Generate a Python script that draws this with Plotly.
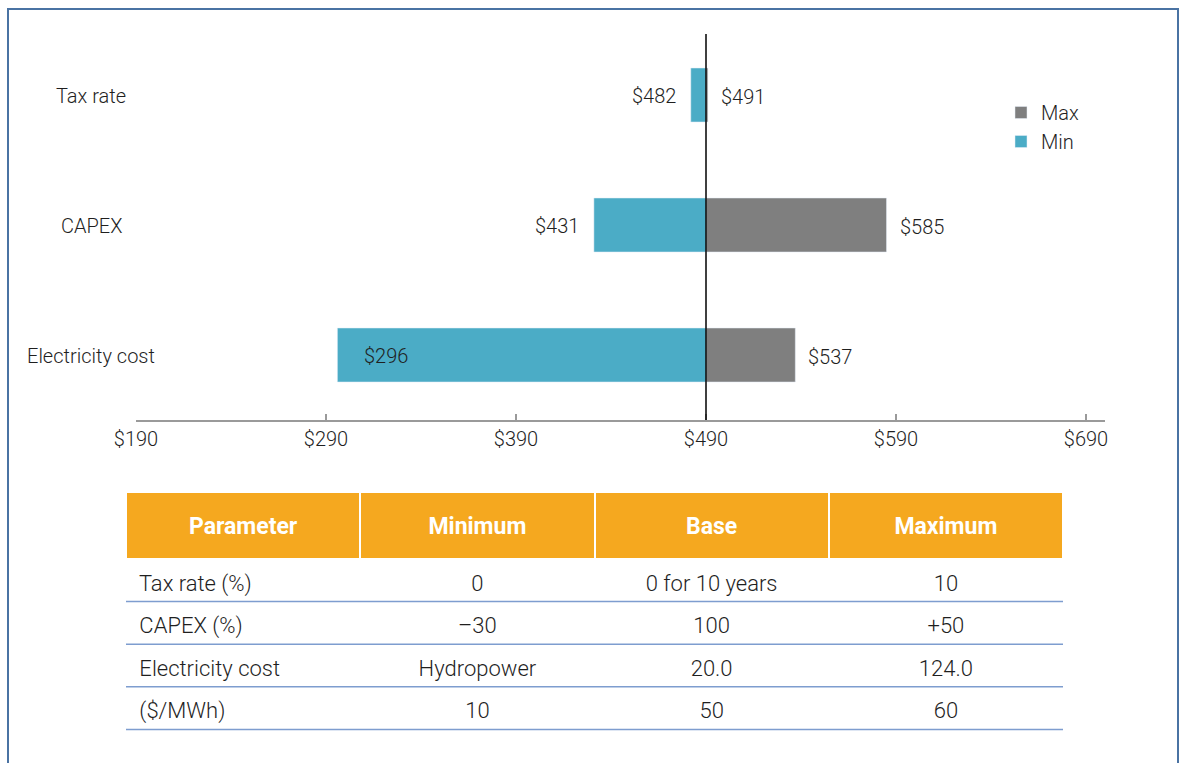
import plotly.graph_objects as go

# ---- chart data ----
categories = ["Electricity cost", "CAPEX", "Tax rate"]
min_values = [296, 431, 482]
max_values = [537, 585, 491]
base_value = 490
tick_values = [190, 290, 390, 490, 590, 690]

# ---- table data ----
table_header = ["Parameter", "Minimum", "Base", "Maximum"]
col_parameter = ["Tax rate (%)", "CAPEX (%)", "Electricity cost", "($/MWh)"]
col_minimum = ["0", "\u201330", "Hydropower", "10"]
col_base = ["0 for 10 years", "100", "20.0", "50"]
col_maximum = ["10", "+50", "124.0", "60"]

W, H = 1182, 763
FONT = "Roboto"
TEXT = "#1f1f1f"
MIN_COLOR = "#4bacc6"
MAX_COLOR = "#7f7f7f"
ORANGE = "#f5a81f"
RULE = "#7e9dcf"
CLEAR = "rgba(0,0,0,0)"


def px_x(p):
    return p / W


def px_y(p):
    return 1 - p / H


fig = go.Figure()

fig.add_trace(go.Bar(
    name="Max", y=categories, x=[v - base_value for v in max_values],
    base=base_value, orientation="h", marker_color=MAX_COLOR,
    width=0.415, hoverinfo="skip",
))
fig.add_trace(go.Bar(
    name="Min", y=categories, x=[v - base_value for v in min_values],
    base=base_value, orientation="h", marker_color=MIN_COLOR,
    width=0.415, hoverinfo="skip",
))

annotations = []
# value labels
for cat, lo, hi in zip(categories, min_values, max_values):
    if base_value - lo > 150:
        annotations.append(dict(x=lo, y=cat, xref="x", yref="y", text=f"${lo}",
                                xanchor="left", xshift=25, yshift=-1, showarrow=False))
    else:
        annotations.append(dict(x=lo, y=cat, xref="x", yref="y", text=f"${lo}",
                                xanchor="right", xshift=-13, yshift=-1, showarrow=False))
    annotations.append(dict(x=max(hi, base_value), y=cat, xref="x", yref="y",
                            text=f"${hi}", xanchor="left", xshift=11, yshift=-2,
                            showarrow=False))
# category labels
for cat in categories:
    annotations.append(dict(x=px_x(91), y=cat, xref="paper", yref="y", text=cat,
                            xanchor="center", yshift=-1, showarrow=False))

shapes = [
    # baseline marker
    dict(type="line", xref="x", yref="y domain", x0=base_value, x1=base_value,
         y0=0, y1=0.99, line=dict(color="#000000", width=1.5)),
    # outer frame
    dict(type="rect", xref="paper", yref="paper", x0=px_x(8), x1=px_x(1178),
         y0=-0.05, y1=px_y(9), line=dict(color="#4a73a3", width=2)),
]

# ---- table ----
table_top = 492
header_h = 67
row_h = 42.6
text_drop = 17          # header labels sit lower than the top of the orange band
body_drop = 7           # body text offset inside each ruled row
table_left, table_right = 126, 1063
n_rows = len(col_parameter)
table_bottom = table_top + header_h + row_h * n_rows

# orange header band
fig.add_trace(go.Table(
    domain=dict(x=[px_x(table_left), px_x(table_right)],
                y=[px_y(table_top + header_h), px_y(table_top)]),
    columnwidth=[1, 1, 1, 1],
    header=dict(values=["", "", "", ""], fill_color=ORANGE,
                line=dict(color="white", width=2), height=header_h),
    cells=dict(values=[[], [], [], []], fill_color=CLEAR, line=dict(color=CLEAR)),
))

# table text
fig.add_trace(go.Table(
    domain=dict(x=[px_x(table_left), px_x(table_right)],
                y=[px_y(table_bottom + 12), px_y(table_top + text_drop)]),
    columnwidth=[1, 1, 1, 1],
    header=dict(
        values=table_header,
        fill_color=CLEAR, line=dict(color=CLEAR, width=0),
        align="center", height=header_h - text_drop + body_drop,
        font=dict(family=FONT, size=23, color="white", weight="bold"),
    ),
    cells=dict(
        values=[[" " + v for v in col_parameter], col_minimum, col_base, col_maximum],
        fill_color=CLEAR, line=dict(color=CLEAR, width=0),
        align=["left", "center", "center", "center"], height=row_h,
        font=dict(family=FONT, size=22, color=TEXT, weight=300),
    ),
))

for k in range(1, n_rows + 1):
    yy = table_top + header_h + row_h * k
    shapes.append(dict(type="line", xref="paper", yref="paper",
                       x0=px_x(table_left), x1=px_x(table_right),
                       y0=px_y(yy), y1=px_y(yy),
                       line=dict(color=RULE, width=1.5)))

fig.update_layout(
    width=W, height=H,
    margin=dict(l=0, r=0, t=0, b=0, autoexpand=False),
    paper_bgcolor="white", plot_bgcolor="white",
    font=dict(family=FONT, size=20, color=TEXT, weight=300),
    barmode="overlay",
    showlegend=True,
    legend=dict(x=px_x(1001), y=px_y(93), xanchor="left", yanchor="top",
                traceorder="normal", font=dict(size=20, color=TEXT),
                bgcolor=CLEAR, itemclick=False),
    xaxis=dict(
        domain=[px_x(136), px_x(1105)], range=[190, 700],
        tickvals=tick_values, ticktext=[f"${v}" for v in tick_values],
        showline=True, linecolor="#9a9a9a", linewidth=1.5,
        ticks="inside", ticklen=6, tickcolor="#9a9a9a", tickwidth=1.5,
        showgrid=False, zeroline=False, anchor="y", automargin=False,
        tickfont=dict(size=20, color=TEXT),
    ),
    yaxis=dict(
        domain=[px_y(420), px_y(30)], range=[-0.5, 2.5], automargin=False,
        showticklabels=False, showgrid=False, zeroline=False, showline=False,
        categoryorder="array", categoryarray=categories,
    ),
    annotations=annotations,
    shapes=shapes,
)

fig.write_html("out.html")
